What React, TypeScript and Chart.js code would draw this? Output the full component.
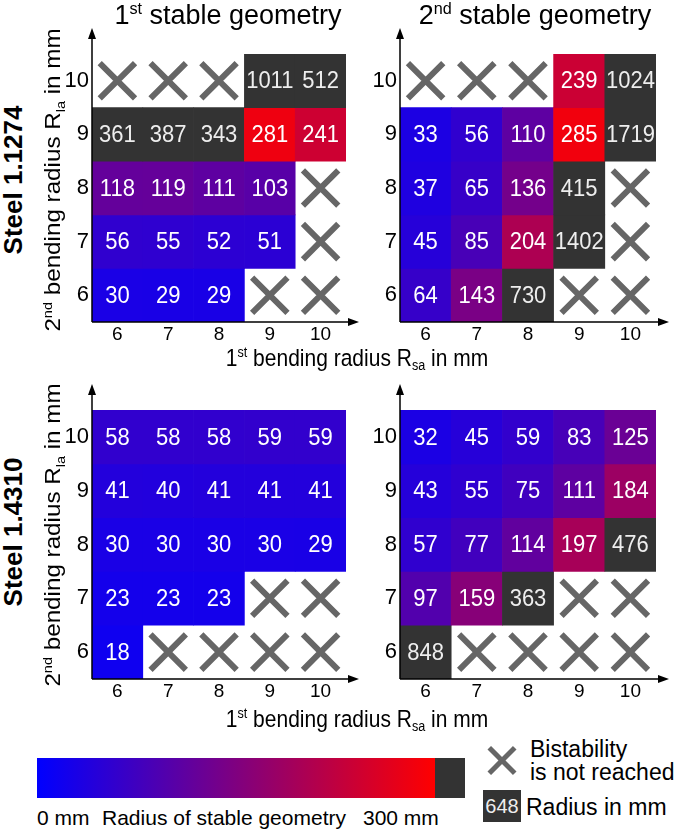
import React, { useEffect, useRef } from 'react';
import { Chart, registerables } from 'chart.js';

Chart.register(...registerables);

// ---------- data ----------
const xCategories = ['6', '7', '8', '9', '10'];
const yRows = [10, 9, 8, 7, 6];

// rows top (10) to bottom (6); null = bistability not reached
const steel1274First = [
  [null, null, null, 1011, 512],
  [361, 387, 343, 281, 241],
  [118, 119, 111, 103, null],
  [56, 55, 52, 51, null],
  [30, 29, 29, null, null],
];
const steel1274Second = [
  [null, null, null, 239, 1024],
  [33, 56, 110, 285, 1719],
  [37, 65, 136, 415, null],
  [45, 85, 204, 1402, null],
  [64, 143, 730, null, null],
];
const steel4310First = [
  [58, 58, 58, 59, 59],
  [41, 40, 41, 41, 41],
  [30, 30, 30, 30, 29],
  [23, 23, 23, null, null],
  [18, null, null, null, null],
];
const steel4310Second = [
  [32, 45, 59, 83, 125],
  [43, 55, 75, 111, 184],
  [57, 77, 114, 197, 476],
  [97, 159, 363, null, null],
  [848, null, null, null, null],
];

const colorMax = 300;
const FONT = '"Liberation Sans", Arial, Helvetica, sans-serif';

function cellColor(v: number): string {
  if (v > colorMax) return '#333333';
  const t = v / colorMax;
  const r = Math.round(255 * t);
  const b = Math.round(255 * (1 - t));
  return `rgb(${r},0,${b})`;
}

const decorPlugin = {
  id: 'heatDecor',
  afterDatasetsDraw(chart: any) {
    const ctx = chart.ctx;
    ctx.save();
    chart.data.datasets.forEach((ds: any, di: number) => {
      if (ds.type !== 'bar') return;
      const meta = chart.getDatasetMeta(di);
      meta.data.forEach((el: any, i: number) => {
        const v = ds.cellValues[i];
        if (v == null) return;
        const p = el.getProps(['x', 'y', 'base'], true);
        const txt = String(v);
        ctx.save();
        ctx.translate(p.x, (p.y + p.base) / 2 + 1);
        ctx.scale(1, 1.1);
        ctx.fillStyle = v > colorMax ? '#eeeeee' : '#ffffff';
        ctx.font = `22px ${FONT}`;
        ctx.textAlign = 'center';
        ctx.textBaseline = 'middle';
        ctx.fillText(txt, 0, 0);
        ctx.restore();
      });
    });
    // axes with arrows
    const { left, right, top, bottom } = chart.chartArea;
    const yTip = top - 26;
    const xTip = right + 13;
    ctx.strokeStyle = '#000';
    ctx.fillStyle = '#000';
    ctx.lineWidth = 1.5;
    ctx.beginPath();
    ctx.moveTo(left, bottom);
    ctx.lineTo(left, yTip + 6);
    ctx.moveTo(left, bottom);
    ctx.lineTo(xTip - 6, bottom);
    ctx.stroke();
    ctx.beginPath();
    ctx.moveTo(left, yTip);
    ctx.lineTo(left - 4, yTip + 11);
    ctx.lineTo(left + 4, yTip + 11);
    ctx.closePath();
    ctx.fill();
    ctx.beginPath();
    ctx.moveTo(xTip, bottom);
    ctx.lineTo(xTip - 11, bottom - 4);
    ctx.lineTo(xTip - 11, bottom + 4);
    ctx.closePath();
    ctx.fill();
    ctx.restore();
  },
};

type PanelProps = { values: (number | null)[][]; left: number; top: number; cw: number; ch: number };

function HeatPanel({ values, left, top, cw, ch }: PanelProps) {
  const ref = useRef<HTMLCanvasElement | null>(null);
  const padL = 35, padT = 30, padR = 17, padB = 30;
  const W = padL + cw + padR;
  const H = padT + ch + padB;

  useEffect(() => {
    if (!ref.current) return;
    const barSets: any[] = yRows.map((r, ri) => ({
      type: 'bar',
      data: xCategories.map((_, ci) => (values[ri][ci] == null ? null : [r - 0.5, r + 0.5])),
      cellValues: values[ri],
      backgroundColor: values[ri].map((v) => (v == null ? 'rgba(0,0,0,0)' : cellColor(v))),
      borderWidth: 0,
      grouped: false,
      barPercentage: 1,
      categoryPercentage: 1,
    }));
    const crosses: { x: string; y: number }[] = [];
    yRows.forEach((r, ri) =>
      xCategories.forEach((c, ci) => {
        if (values[ri][ci] == null) crosses.push({ x: c, y: r });
      })
    );
    const crossSet: any = {
      type: 'scatter',
      data: crosses,
      pointStyle: 'crossRot',
      pointRadius: 25,
      pointBorderWidth: 6,
      pointBorderColor: '#666666',
      pointBackgroundColor: '#666666',
    };
    const chart = new Chart(ref.current, {
      type: 'bar',
      data: { labels: xCategories, datasets: [...barSets, crossSet] },
      options: {
        animation: false,
        responsive: false,
        events: [],
        layout: { padding: { left: 0, top: padT, right: padR, bottom: 0 } },
        plugins: { legend: { display: false }, tooltip: { enabled: false } },
        scales: {
          x: {
            type: 'category',
            offset: true,
            grid: { display: false, drawTicks: false },
            border: { display: false },
            ticks: { color: '#000', font: { family: FONT, size: 19 }, padding: 1 },
            afterFit: (s: any) => { s.height = padB; },
          },
          y: {
            type: 'linear',
            min: 5.5,
            max: 10.5,
            grid: { display: false, drawTicks: false },
            border: { display: false },
            ticks: { color: '#000', font: { family: FONT, size: 22 }, padding: 3 },
            afterBuildTicks: (s: any) => { s.ticks = yRows.map((v) => ({ value: v })); },
            afterFit: (s: any) => { s.width = padL; },
          },
        },
      } as any,
      plugins: [decorPlugin],
    });
    return () => chart.destroy();
  }, [values]);

  return (
    <canvas
      ref={ref}
      width={W}
      height={H}
      style={{ position: 'absolute', left: left - padL, top: top - padT, width: W, height: H }}
    />
  );
}

const supStyle: React.CSSProperties = { fontSize: '0.6em', position: 'relative', top: '-0.6em' };
const subStyle: React.CSSProperties = { fontSize: '0.6em', position: 'relative', top: '0.35em' };

function Rot({ cx, cy, size, bold, stretch = 1, children }: any) {
  return (
    <div
      style={{
        position: 'absolute',
        left: cx,
        top: cy,
        transform: `translate(-50%,-50%) scaleY(${stretch}) rotate(-90deg)`,
        whiteSpace: 'nowrap',
        lineHeight: 1,
        fontSize: size,
        fontWeight: bold ? 'bold' : 'normal',
      }}
    >
      {children}
    </div>
  );
}

function CenterText({ cx, top, size, stretch = 1, children }: any) {
  return (
    <div
      style={{
        position: 'absolute',
        left: cx,
        top,
        transform: `translateX(-50%) scaleY(${stretch})`,
        transformOrigin: '50% 85%',
        whiteSpace: 'nowrap',
        lineHeight: 1,
        fontSize: size,
      }}
    >
      {children}
    </div>
  );
}

function Txt({ left, top, size, children }: any) {
  return (
    <div style={{ position: 'absolute', left, top, whiteSpace: 'nowrap', lineHeight: 1, fontSize: size }}>{children}</div>
  );
}

const yTitle = (
  <>
    2<span style={supStyle}>nd</span> bending radius R<span style={subStyle}>la</span> in mm
  </>
);
const xTitle = (
  <>
    1<span style={supStyle}>st</span> bending radius R<span style={subStyle}>sa</span> in mm
  </>
);

export default function App() {
  return (
    <div
      style={{
        position: 'absolute',
        left: 0,
        top: 0,
        width: 685,
        height: 830,
        background: '#fff',
        fontFamily: FONT,
        color: '#000',
        overflow: 'hidden',
      }}
    >
      <HeatPanel values={steel1274First} left={92} top={53} cw={268} ch={270} />
      <HeatPanel values={steel1274Second} left={400} top={53} cw={270} ch={270} />
      <HeatPanel values={steel4310First} left={92} top={409} cw={268} ch={271} />
      <HeatPanel values={steel4310Second} left={400} top={409} cw={270} ch={271} />

      <CenterText cx={228} top={2} size={27}>
        1<span style={supStyle}>st</span> stable geometry
      </CenterText>
      <CenterText cx={535} top={2} size={27}>
        2<span style={supStyle}>nd</span> stable geometry
      </CenterText>

      <CenterText cx={357} top={348} size={21} stretch={1.12}>{xTitle}</CenterText>
      <CenterText cx={357} top={709} size={21} stretch={1.12}>{xTitle}</CenterText>

      <Rot cx={53} cy={180} size={22} stretch={1.1}>{yTitle}</Rot>
      <Rot cx={53} cy={535} size={22} stretch={1.1}>{yTitle}</Rot>
      <Rot cx={13.3} cy={180} size={26} bold>Steel 1.1274</Rot>
      <Rot cx={13.3} cy={532} size={26} bold>Steel 1.4310</Rot>

      {/* colour bar legend */}
      <div
        style={{
          position: 'absolute',
          left: 37,
          top: 758,
          width: 398,
          height: 40,
          background: 'linear-gradient(to right, rgb(0,0,255), rgb(255,0,0))',
        }}
      />
      <div style={{ position: 'absolute', left: 435, top: 758, width: 30, height: 40, background: '#333333' }} />
      <Txt left={37} top={807} size={21}>0 mm</Txt>
      <CenterText cx={224} top={807} size={21}>Radius of stable geometry</CenterText>
      <Txt left={363} top={807} size={21}>300 mm</Txt>

      {/* cross legend */}
      <div
        style={{
          position: 'absolute',
          left: 502 - 18,
          top: 760 - 2.5,
          width: 36,
          height: 5,
          background: '#666666',
          transform: 'rotate(45deg)',
        }}
      />
      <div
        style={{
          position: 'absolute',
          left: 502 - 18,
          top: 760 - 2.5,
          width: 36,
          height: 5,
          background: '#666666',
          transform: 'rotate(-45deg)',
        }}
      />
      <Txt left={530} top={738} size={23}>Bistability</Txt>
      <Txt left={530} top={761} size={23}>is not reached</Txt>

      <div
        style={{
          position: 'absolute',
          left: 483,
          top: 790,
          width: 38,
          height: 32,
          background: '#333333',
          color: '#eeeeee',
          fontSize: 20,
          lineHeight: '32px',
          textAlign: 'center',
        }}
      >
        648
      </div>
      <Txt left={526} top={796} size={23}>Radius in mm</Txt>
    </div>
  );
}
